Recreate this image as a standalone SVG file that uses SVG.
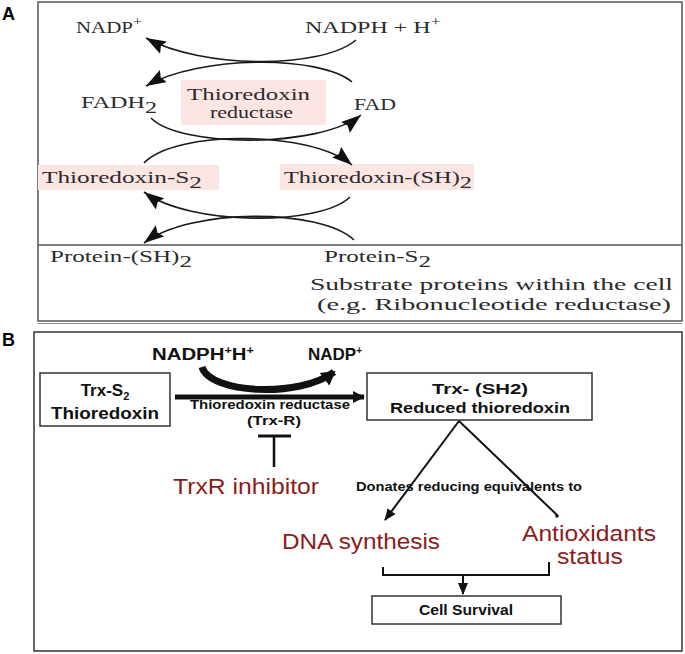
<svg xmlns="http://www.w3.org/2000/svg" width="685" height="654" viewBox="0 0 685 654">
<defs>
<style>
.lbl{font-family:"Liberation Sans",Arial,sans-serif;font-weight:bold;font-size:18px;fill:#000}
.ser{font-family:"Liberation Serif","Times New Roman",serif;font-size:17px;fill:#2b2b2b}
.sb{font-family:"Liberation Sans",Arial,sans-serif;font-weight:bold;fill:#111}
.red{font-family:"Liberation Sans",Arial,sans-serif;font-size:22px;fill:#8b1c1c}
.curve{fill:none;stroke:#1a1a1a;stroke-width:1.6}
.box{fill:#fff;stroke:#333;stroke-width:1.5}
.pink{fill:#fce6e4}
.ln{fill:none;stroke:#111;stroke-width:2}
</style>
<marker id="ah" markerWidth="20" markerHeight="14" refX="20" refY="7" orient="auto" markerUnits="userSpaceOnUse"><path d="M0,0 L20,7 L0,14 L3,7 z" fill="#111"/></marker>
<marker id="ahb" markerWidth="12" markerHeight="12" refX="11" refY="6" orient="auto" markerUnits="userSpaceOnUse"><path d="M0,0 L12,6 L0,12 z" fill="#111"/></marker>
<marker id="ahc" markerWidth="14" markerHeight="16" refX="12" refY="8" orient="auto" markerUnits="userSpaceOnUse"><path d="M0,0 L14,8 L0,16 z" fill="#111"/></marker>
<marker id="ahs" markerWidth="12" markerHeight="10" refX="11" refY="5" orient="auto" markerUnits="userSpaceOnUse"><path d="M0,0 L12,5 L0,10 z" fill="#111"/></marker>
</defs>
<rect width="685" height="654" fill="#fff"/>

<!-- Panel A -->
<g id="panelA">
<text class="lbl" x="2" y="20">A</text>
<rect x="38" y="2" width="644" height="319" fill="none" stroke="#555" stroke-width="1.5"/>
<line x1="38" y1="245" x2="682" y2="245" stroke="#555" stroke-width="1.5"/>
<line x1="38" y1="323.5" x2="682" y2="323.5" stroke="#888" stroke-width="1"/>
</g>
<g id="nadp_a"><text class="ser" x="76" y="33" textLength="66" lengthAdjust="spacingAndGlyphs">NADP<tspan dy="-7" font-size="13">+</tspan></text></g>
<g id="nadph_a"><text class="ser" x="305" y="33" textLength="136" lengthAdjust="spacingAndGlyphs">NADPH + H<tspan dy="-7" font-size="13">+</tspan></text></g>
<g id="fadh2"><text class="ser" x="81" y="108" textLength="76" lengthAdjust="spacingAndGlyphs">FADH<tspan dy="5">2</tspan></text></g>
<g id="trxred_a"><rect class="pink" x="181" y="80" width="145" height="45"/>
<text class="ser" x="187" y="100" font-size="16" textLength="123" lengthAdjust="spacingAndGlyphs">Thioredoxin</text>
<text class="ser" x="210" y="118" font-size="16" textLength="83" lengthAdjust="spacingAndGlyphs">reductase</text></g>
<g id="fad"><text class="ser" x="354" y="110" textLength="42" lengthAdjust="spacingAndGlyphs">FAD</text></g>
<g id="trxs2_a"><rect class="pink" x="38" y="165" width="181" height="25"/>
<text class="ser" x="42" y="183" textLength="160" lengthAdjust="spacingAndGlyphs">Thioredoxin-S<tspan dy="5">2</tspan></text></g>
<g id="trxsh2_a"><rect class="pink" x="280" y="164" width="194" height="26"/>
<text class="ser" x="284" y="183" textLength="188" lengthAdjust="spacingAndGlyphs">Thioredoxin-(SH)<tspan dy="5">2</tspan></text></g>
<g id="protsh2"><text class="ser" x="50" y="262" textLength="142" lengthAdjust="spacingAndGlyphs">Protein-(SH)<tspan dy="5">2</tspan></text></g>
<g id="prots2"><text class="ser" x="324" y="262" textLength="107" lengthAdjust="spacingAndGlyphs">Protein-S<tspan dy="5">2</tspan></text></g>
<g id="substrate"><text class="ser" x="310" y="290" textLength="363" lengthAdjust="spacingAndGlyphs">Substrate proteins within the cell</text>
<text class="ser" x="317" y="310" textLength="354" lengthAdjust="spacingAndGlyphs">(e.g. Ribonucleotide reductase)</text></g>

<!-- Panel B -->
<g id="panelB">
<text class="lbl" x="2" y="346">B</text>
<rect x="34" y="332" width="648" height="319" fill="none" stroke="#333" stroke-width="1.5"/>
</g>
<g id="nadph_b"><text class="sb" x="152" y="360" font-size="16" textLength="102" lengthAdjust="spacingAndGlyphs">NADPH<tspan dy="-6" font-size="10">+</tspan><tspan dy="6">H</tspan><tspan dy="-6" font-size="10">+</tspan></text></g>
<g id="nadp_b"><text class="sb" x="308" y="360" font-size="17" textLength="54" lengthAdjust="spacingAndGlyphs">NADP<tspan dy="-6" font-size="10">+</tspan></text></g>
<g id="trxs2_b"><rect class="box" x="40" y="373" width="130" height="53"/>
<text class="sb" x="105" y="396" font-size="17" text-anchor="middle">Trx-S<tspan dy="4" font-size="11">2</tspan></text>
<text class="sb" x="105" y="419" font-size="17" text-anchor="middle" textLength="108" lengthAdjust="spacingAndGlyphs">Thioredoxin</text></g>
<g id="trxsh2_b"><rect class="box" x="367" y="373" width="225" height="47"/>
<text class="sb" x="480" y="394" font-size="15" text-anchor="middle" textLength="96" lengthAdjust="spacingAndGlyphs">Trx- (SH2)</text>
<text class="sb" x="480" y="413" font-size="15" text-anchor="middle" textLength="180" lengthAdjust="spacingAndGlyphs">Reduced thioredoxin</text></g>
<g id="trxr_label"><text class="sb" x="190" y="409" font-size="12" textLength="160" lengthAdjust="spacingAndGlyphs">Thioredoxin reductase</text>
<text class="sb" x="274" y="425" font-size="13" text-anchor="middle" textLength="54" lengthAdjust="spacingAndGlyphs">(Trx-R)</text></g>
<g id="inhibitor"><text class="red" x="173" y="494" font-size="22" textLength="146" lengthAdjust="spacingAndGlyphs">TrxR inhibitor</text></g>
<g id="donates"><text class="sb" x="356" y="491" font-size="12" textLength="226" lengthAdjust="spacingAndGlyphs">Donates reducing equivalents to</text></g>
<g id="dna"><text class="red" x="282" y="549" textLength="158" lengthAdjust="spacingAndGlyphs">DNA synthesis</text></g>
<g id="antiox"><text class="red" x="522" y="541" textLength="134" lengthAdjust="spacingAndGlyphs">Antioxidants</text>
<text class="red" x="557" y="564" textLength="66" lengthAdjust="spacingAndGlyphs">status</text></g>
<g id="cellsurvival"><rect class="box" x="372" y="596" width="189" height="28"/>
<text class="sb" x="466" y="615" font-size="15" text-anchor="middle" textLength="94" lengthAdjust="spacingAndGlyphs">Cell Survival</text></g>

<g id="connectors">
<path class="curve" d="M356,40 C320,70 200,68 146,38" marker-end="url(#ah)"/>
<path class="curve" d="M352,82 C320,55 200,55 146,86" marker-end="url(#ah)"/>
<path class="curve" d="M151,118 C180,148 320,148 361,115" marker-end="url(#ah)"/>
<path class="curve" d="M144,163 C175,130 310,130 352,165" marker-end="url(#ah)"/>
<path class="curve" d="M350,197 C320,226 190,226 144,192" marker-end="url(#ah)"/>
<path class="curve" d="M354,240 C320,208 190,208 144,243" marker-end="url(#ah)"/>
<path d="M202,367 C210,394 300,398 334,372" fill="none" stroke="#111" stroke-width="7" marker-end="url(#ahc)"/>
<line x1="175" y1="397" x2="364" y2="397" stroke="#111" stroke-width="5" marker-end="url(#ahb)"/>
<line x1="258" y1="436" x2="291" y2="436" stroke="#111" stroke-width="3"/>
<line x1="274" y1="436" x2="274" y2="467" stroke="#111" stroke-width="2.5"/>
<line class="ln" x1="459" y1="421" x2="385" y2="520" marker-end="url(#ahs)"/>
<line class="ln" x1="459" y1="421" x2="557" y2="515"/>
<circle cx="557" cy="516" r="1.8" fill="#111"/>
<path class="ln" d="M383,567 V575 H549 V562"/>
<line class="ln" x1="463" y1="575" x2="463" y2="594" marker-end="url(#ahs)"/>
</g>
</svg>
